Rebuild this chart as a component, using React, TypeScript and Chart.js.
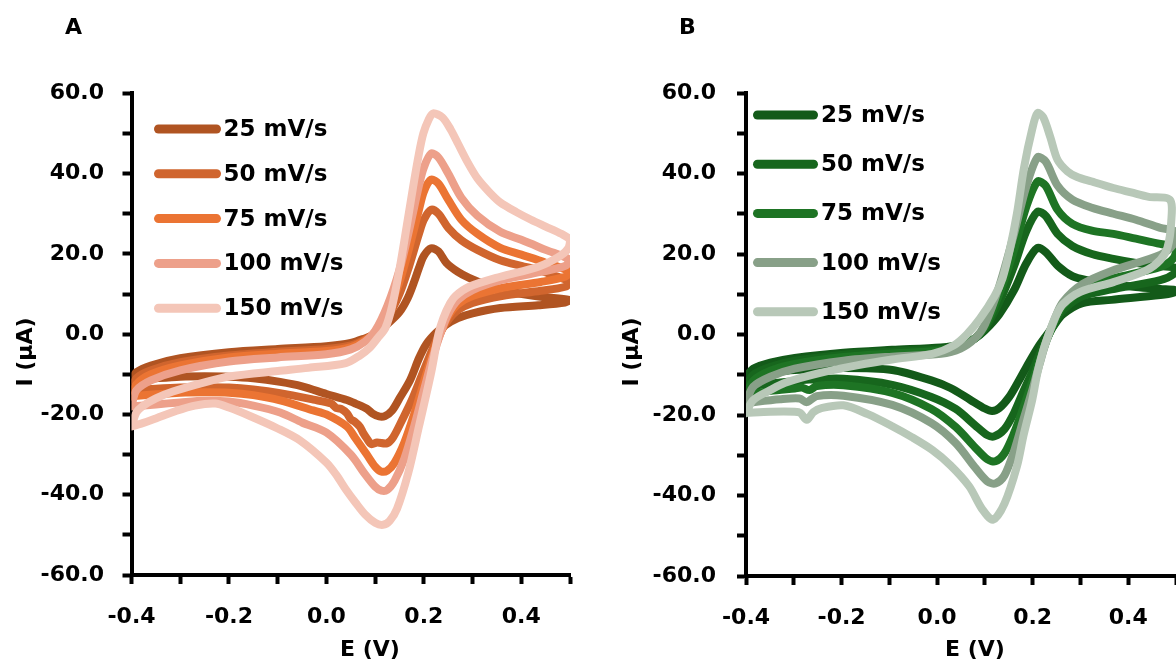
import React, { useEffect, useRef } from 'react';
import { Chart, registerables } from 'chart.js';

Chart.register(...registerables);

// ---------- data ----------
const SERIES_LABELS = ['25 mV/s', '50 mV/s', '75 mV/s', '100 mV/s', '150 mV/s'];
const COLORS_A = ['#B05422', '#D0652E', '#EB7433', '#EDA08A', '#F4C6B8'];
const COLORS_B = ['#135A19', '#17661D', '#1E7424', '#88A088', '#B8C8B8'];
const X_TITLE = 'E (V)';
const Y_TITLE = 'I (μA)';

const X_TICKS = [-0.4, -0.3, -0.2, -0.1, 0, 0.1, 0.2, 0.3, 0.4, 0.5];
const X_LABELED = [-0.4, -0.2, 0, 0.2, 0.4];
const Y_TICKS = [-60, -50, -40, -30, -20, -10, 0, 10, 20, 30, 40, 50, 60];
const Y_LABELED = [-60, -40, -20, 0, 20, 40, 60];

// Panel A (E in V, I in uA), each loop: forward scan then reverse scan
const A_25 = [[-0.4,-11.5],[-0.39,-9.5],[-0.36,-7.8],[-0.3,-6],[-0.2,-4.5],[-0.1,-3.7],[0,-3],[0.05,-2.2],[0.08,-1],[0.1,0],[0.125,2.5],[0.15,5.5],[0.167,9],[0.18,13],[0.19,16.5],[0.2,19.5],[0.215,21.4],[0.23,20.6],[0.246,17.8],[0.27,15.5],[0.293,14],[0.33,12.2],[0.38,10.5],[0.44,9.3],[0.5,8.5],
  [0.49,7.9],[0.435,7.2],[0.357,6.5],[0.3,5.2],[0.27,4],[0.245,2.3],[0.225,0.3],[0.205,-2.5],[0.19,-6],[0.172,-11.4],[0.151,-15.8],[0.135,-19],[0.12,-20.4],[0.108,-20.5],[0.095,-19.8],[0.083,-18.6],[0.06,-17.3],[0.042,-16.4],[0,-14.9],[-0.05,-13],[-0.095,-11.9],[-0.15,-11],[-0.2,-10.6],[-0.25,-10.5],[-0.3,-10.6],[-0.35,-11],[-0.4,-11.5]];
const A_50 = [[-0.4,-14],[-0.39,-11],[-0.36,-9],[-0.3,-7],[-0.2,-5.3],[-0.1,-4.4],[0,-3.7],[0.05,-2.8],[0.08,-1.3],[0.1,0.3],[0.125,4],[0.15,10],[0.17,17],[0.19,25],[0.2,28.5],[0.215,31],[0.23,30],[0.25,26.5],[0.277,23.4],[0.31,21],[0.357,18.4],[0.4,17],[0.435,16],[0.47,14.5],[0.5,13],
  [0.49,11.8],[0.44,10.8],[0.36,9.5],[0.3,7.8],[0.27,6],[0.25,3.5],[0.232,0],[0.215,-4.5],[0.195,-10.5],[0.175,-16.5],[0.157,-21],[0.137,-25.7],[0.124,-27.2],[0.104,-27],[0.092,-27.4],[0.083,-26],[0.075,-24.5],[0.069,-23.1],[0.058,-21.8],[0.05,-21.2],[0.042,-19.7],[0.03,-18.6],[0.02,-18.4],[0.01,-17.3],[-0.027,-16.3],[-0.095,-14.7],[-0.15,-13.8],[-0.2,-13.3],[-0.25,-13.2],[-0.3,-13.3],[-0.35,-13.6],[-0.4,-14]];
const A_75 = [[-0.4,-15.5],[-0.39,-12.5],[-0.36,-10],[-0.3,-7.8],[-0.2,-5.8],[-0.1,-4.9],[0,-4.2],[0.05,-3.2],[0.08,-1.5],[0.1,0.5],[0.125,5.5],[0.15,13],[0.17,21.5],[0.19,31],[0.2,35.5],[0.215,38.5],[0.23,37.5],[0.25,33.5],[0.277,28.5],[0.31,25],[0.357,21.5],[0.4,19.8],[0.45,17.8],[0.5,15.5],
  [0.49,14.3],[0.44,13],[0.36,11.5],[0.3,9.5],[0.27,7.5],[0.25,4.5],[0.235,0.5],[0.218,-5],[0.2,-12],[0.18,-20],[0.16,-27],[0.14,-32],[0.125,-34],[0.112,-34.2],[0.1,-33],[0.083,-30],[0.06,-26],[0.042,-23],[0,-20],[-0.027,-19],[-0.095,-16.5],[-0.15,-15.2],[-0.2,-14.6],[-0.25,-14.5],[-0.3,-14.6],[-0.35,-15],[-0.4,-15.5]];
const A_100 = [[-0.4,-18],[-0.39,-14],[-0.36,-11.5],[-0.3,-9],[-0.2,-6.8],[-0.1,-5.8],[0,-5],[0.05,-3.8],[0.08,-1.8],[0.1,0.8],[0.125,7],[0.15,16],[0.17,26],[0.19,37],[0.2,41.5],[0.215,45],[0.23,44],[0.25,40],[0.277,34],[0.31,29.5],[0.357,25.5],[0.4,23.5],[0.45,21],[0.5,18.5],
  [0.49,17],[0.44,15.5],[0.36,13.5],[0.3,11],[0.27,8.5],[0.25,5],[0.235,0.5],[0.218,-6],[0.2,-14],[0.18,-23],[0.16,-31],[0.14,-36.5],[0.125,-38.8],[0.113,-39],[0.1,-38],[0.08,-35],[0.05,-30],[0,-24.5],[-0.05,-22],[-0.095,-19.5],[-0.15,-17.8],[-0.2,-16.8],[-0.25,-16.6],[-0.3,-17],[-0.35,-17.5],[-0.4,-18]];
const A_150 = [[-0.4,-23],[-0.39,-19.5],[-0.378,-18],[-0.35,-16],[-0.315,-14.3],[-0.25,-12],[-0.196,-10.5],[-0.1,-9.2],[-0.037,-8.4],[0.04,-7.2],[0.07,-5.2],[0.088,-3.5],[0.105,-1],[0.121,1.5],[0.135,7],[0.151,16.8],[0.165,27],[0.178,36.7],[0.19,45],[0.199,50],[0.21,53.5],[0.219,55],[0.238,54],[0.255,51],[0.27,47.5],[0.29,42.8],[0.31,38.8],[0.335,35.3],[0.357,32.8],[0.39,30.4],[0.42,28.5],[0.45,26.8],[0.482,25],[0.5,23.5],
  [0.497,21.5],[0.48,19.5],[0.435,16.8],[0.357,14.3],[0.293,11.8],[0.265,9.5],[0.254,7.7],[0.24,4],[0.23,0],[0.215,-9.6],[0.19,-23],[0.168,-34.6],[0.145,-43.5],[0.13,-46.5],[0.116,-47.5],[0.1,-47],[0.08,-45],[0.06,-42],[0.04,-38.7],[0.02,-35],[0,-32],[-0.054,-26.5],[-0.1,-23.5],[-0.157,-20.4],[-0.2,-18.3],[-0.228,-17.3],[-0.27,-17.8],[-0.31,-19.2],[-0.35,-21],[-0.38,-22.3],[-0.4,-23]];

// Panel B
const B_25 = [[-0.4,-10.5],[-0.385,-8.5],[-0.349,-7],[-0.298,-5.8],[-0.196,-4.5],[-0.094,-3.8],[0.008,-3.2],[0.049,-2.5],[0.079,-1],[0.1,1],[0.13,5],[0.161,11],[0.186,17.5],[0.21,21.5],[0.227,20.5],[0.253,17],[0.283,14.5],[0.314,13.5],[0.365,12.5],[0.416,11.8],[0.467,11.3],[0.5,11],
  [0.495,10.4],[0.467,9.8],[0.365,8.6],[0.304,7.8],[0.263,5],[0.243,2],[0.227,-0.5],[0.212,-3],[0.192,-7],[0.171,-11.5],[0.151,-15.5],[0.13,-18.3],[0.115,-19],[0.1,-18.4],[0.069,-16.2],[0.028,-13.3],[-0.012,-11.4],[-0.094,-8.8],[-0.196,-8.3],[-0.298,-8.8],[-0.349,-9.5],[-0.4,-10.5]];
const B_50 = [[-0.4,-13],[-0.385,-10],[-0.349,-8],[-0.298,-6.5],[-0.196,-5],[-0.094,-4.2],[0.008,-3.6],[0.049,-2.8],[0.079,-1],[0.1,1.5],[0.13,8],[0.161,17],[0.186,25.5],[0.21,30.5],[0.227,29.5],[0.252,25],[0.283,22],[0.324,20],[0.369,18.8],[0.416,17.8],[0.467,17],[0.5,16.5],
  [0.495,15],[0.467,13.5],[0.365,11.2],[0.304,9.5],[0.263,6],[0.245,2.5],[0.229,-1.2],[0.214,-5],[0.2,-9],[0.181,-14],[0.161,-19.5],[0.141,-23.5],[0.12,-25.3],[0.105,-25],[0.079,-22.5],[0.039,-18.5],[-0.012,-15.5],[-0.094,-12.5],[-0.196,-11],[-0.267,-11.2],[-0.298,-11.6],[-0.349,-12.2],[-0.4,-13]];
const B_75 = [[-0.4,-15],[-0.385,-11.5],[-0.349,-9],[-0.298,-7.3],[-0.196,-5.6],[-0.094,-4.7],[0.008,-4],[0.049,-3],[0.079,-1],[0.1,2],[0.13,10],[0.161,21],[0.186,31.5],[0.21,38],[0.227,37],[0.252,31],[0.283,27.5],[0.324,25.8],[0.369,25],[0.416,23.8],[0.467,22.5],[0.5,21.5],
  [0.495,19],[0.467,16.8],[0.365,13.8],[0.304,11],[0.263,7],[0.245,3],[0.229,-1.5],[0.214,-6.5],[0.2,-11.5],[0.181,-18],[0.161,-24.5],[0.141,-29.5],[0.122,-31.5],[0.105,-31],[0.079,-28],[0.039,-23],[-0.012,-18.5],[-0.094,-14.5],[-0.196,-12.6],[-0.252,-12.8],[-0.267,-13.8],[-0.283,-13.2],[-0.298,-13.4],[-0.349,-14],[-0.4,-15]];
const B_100 = [[-0.4,-17],[-0.385,-13],[-0.349,-10.5],[-0.298,-8.5],[-0.196,-6.5],[-0.094,-5.5],[0.008,-4.8],[0.049,-3.5],[0.079,-1],[0.1,2.5],[0.13,12],[0.161,25],[0.186,36.5],[0.21,44],[0.227,43],[0.252,37],[0.283,33.5],[0.324,31.5],[0.369,30],[0.416,28.5],[0.467,26.5],[0.5,25.5],
  [0.495,22.5],[0.467,19.8],[0.365,15.8],[0.304,12.5],[0.263,8],[0.245,3.5],[0.229,-1.5],[0.214,-7.5],[0.2,-13.5],[0.181,-21],[0.161,-29],[0.141,-35],[0.122,-37],[0.105,-36.5],[0.079,-33],[0.039,-27],[-0.012,-22],[-0.094,-17.5],[-0.196,-15.2],[-0.252,-15.3],[-0.273,-16.8],[-0.288,-15.9],[-0.329,-16.1],[-0.4,-17]];
const B_150 = [[-0.4,-19.5],[-0.385,-16.3],[-0.349,-13.8],[-0.318,-12],[-0.247,-9.6],[-0.165,-7.6],[-0.094,-6.2],[-0.01,-4.8],[0.035,-2.7],[0.062,0],[0.09,4],[0.12,9.5],[0.137,14],[0.152,21],[0.167,30],[0.182,41.5],[0.199,51],[0.21,55],[0.222,54],[0.237,49],[0.252,43.4],[0.273,40.5],[0.292,39.2],[0.324,38],[0.369,36.4],[0.406,35.3],[0.443,34.2],[0.487,33.5],
  [0.49,28],[0.482,21.5],[0.467,18.5],[0.439,16],[0.369,13],[0.3,10.6],[0.263,7.5],[0.248,4.5],[0.235,0.5],[0.222,-4],[0.21,-9.5],[0.199,-16.3],[0.181,-25],[0.167,-32.8],[0.141,-42],[0.117,-46],[0.095,-43.5],[0.067,-37.7],[0.028,-32.5],[-0.01,-28.7],[-0.053,-25.5],[-0.094,-22.8],[-0.145,-19.8],[-0.196,-17.6],[-0.242,-18.3],[-0.259,-19.3],[-0.273,-21.2],[-0.286,-19.5],[-0.298,-19.2],[-0.349,-19.2],[-0.4,-19.5]];

const SERIES_A = [A_25, A_50, A_75, A_100, A_150];
const SERIES_B = [B_25, B_50, B_75, B_100, B_150];

// ---------- layout / style ----------
const FONT = "'DejaVu Sans', sans-serif";
const H = 666;

const GEOM_A = {
  canvasLeft: 0, canvasWidth: 600,
  plotLeft: 131.5, plotRight: 570, plotTop: 93.3, plotBottom: 575,
  yTickPad: 18.5,
  titles: { xx: 370, xy: 650, yx: 26, yy: 352 },
  legend: { x0: 158.5, x1: 216.5, tx: 223.5, y0: 129, dy: 44.8 },
};
const GEOM_B = {
  canvasLeft: 614, canvasWidth: 600,
  plotLeft: 746, plotRight: 1176, plotTop: 93, plotBottom: 576,
  yTickPad: 21,
  titles: { xx: 975, xy: 650, yx: 632, yy: 352 },
  legend: { x0: 757.5, x1: 813.5, tx: 821, y0: 115, dy: 49.2 },
};

const annotatePlugin = {
  id: 'cvAnnot',
  afterDraw(chart: any, _args: any, opts: any) {
    const { ctx } = chart;
    const L = opts.left;
    ctx.save();
    // legend
    chart.data.datasets.forEach((ds: any, i: number) => {
      const y = opts.legend.y0 + i * opts.legend.dy;
      ctx.strokeStyle = ds.borderColor;
      ctx.lineWidth = 9;
      ctx.lineCap = 'round';
      ctx.beginPath();
      ctx.moveTo(opts.legend.x0 - L, y);
      ctx.lineTo(opts.legend.x1 - L, y);
      ctx.stroke();
      ctx.fillStyle = '#000';
      ctx.font = `bold 23px ${FONT}`;
      ctx.textAlign = 'left';
      ctx.textBaseline = 'middle';
      ctx.fillText(ds.label, opts.legend.tx - L, y + 1);
    });
    // axis titles
    ctx.fillStyle = '#000';
    ctx.font = `bold 22px ${FONT}`;
    ctx.textAlign = 'center';
    ctx.textBaseline = 'middle';
    ctx.fillText(X_TITLE, opts.titles.xx - L, opts.titles.xy);
    ctx.translate(opts.titles.yx - L, opts.titles.yy);
    ctx.rotate(-Math.PI / 2);
    ctx.fillText(Y_TITLE, 0, 0);
    ctx.restore();
  },
};

function CVPanel({ series, colors, g }: { series: number[][][]; colors: string[]; g: any }) {
  const ref = useRef<HTMLCanvasElement>(null);
  useEffect(() => {
    const tickFont = { family: FONT, size: 22, weight: 'bold' as const };
    const chart = new Chart(ref.current as HTMLCanvasElement, {
      type: 'scatter',
      data: {
        datasets: series.map((pts, i) => ({
          label: SERIES_LABELS[i],
          data: pts.map(([x, y]) => ({ x, y })),
          showLine: true,
          borderColor: colors[i],
          backgroundColor: colors[i],
          borderWidth: 8,
          pointRadius: 0,
          pointHoverRadius: 0,
          tension: 0.3,
          borderCapStyle: 'round',
          borderJoinStyle: 'round',
          order: series.length - i,
        })),
      },
      options: {
        responsive: false,
        maintainAspectRatio: false,
        animation: false,
        devicePixelRatio: 1,
        events: [],
        layout: { padding: { left: 0, top: g.plotTop, right: g.canvasWidth - (g.plotRight - g.canvasLeft), bottom: 0 } },
        plugins: {
          legend: { display: false },
          tooltip: { enabled: false },
          title: { display: false },
          cvAnnot: { legend: g.legend, titles: g.titles, left: g.canvasLeft },
        } as any,
        scales: {
          x: {
            type: 'linear',
            min: -0.4,
            max: 0.5,
            afterBuildTicks: (s: any) => { s.ticks = X_TICKS.map((v) => ({ value: v })); },
            afterFit: (s: any) => { s.height = H - g.plotBottom; },
            grid: { drawOnChartArea: false, drawTicks: true, tickLength: 9, tickWidth: 4, tickColor: '#000' },
            border: { display: true, color: '#000', width: 4 },
            ticks: {
              autoSkip: false, maxRotation: 0, padding: 20, color: '#000', font: tickFont,
              callback: (v: any) => (X_LABELED.some((l) => Math.abs(l - Number(v)) < 1e-9) ? Number(v).toFixed(1) : ''),
            },
            title: { display: false },
          },
          y: {
            type: 'linear',
            min: -60,
            max: 60,
            afterBuildTicks: (s: any) => { s.ticks = Y_TICKS.map((v) => ({ value: v })); },
            afterFit: (s: any) => { s.width = g.plotLeft - g.canvasLeft; },
            grid: { drawOnChartArea: false, drawTicks: true, tickLength: 9, tickWidth: 4, tickColor: '#000' },
            border: { display: true, color: '#000', width: 4 },
            ticks: {
              autoSkip: false, padding: g.yTickPad, color: '#000', font: tickFont,
              callback: (v: any) => (Y_LABELED.includes(Number(v)) ? Number(v).toFixed(1) : ''),
            },
            title: { display: false },
          },
        },
      },
      plugins: [annotatePlugin as any],
    });
    return () => chart.destroy();
  }, []);
  return (
    <canvas
      ref={ref}
      width={g.canvasWidth}
      height={H}
      style={{ position: 'absolute', left: g.canvasLeft, top: 0, width: g.canvasWidth, height: H }}
    />
  );
}

const letterStyle: React.CSSProperties = {
  position: 'absolute',
  fontFamily: FONT,
  fontWeight: 'bold',
  fontSize: 22,
  lineHeight: '22px',
  color: '#000',
};

export default function App() {
  return (
    <div style={{ position: 'fixed', left: 0, top: 0, width: 1176, height: H, overflow: 'hidden', background: '#fff' }}>
      <CVPanel series={SERIES_A} colors={COLORS_A} g={GEOM_A} />
      <CVPanel series={SERIES_B} colors={COLORS_B} g={GEOM_B} />
      <div style={{ ...letterStyle, left: 65, top: 16 }}>A</div>
      <div style={{ ...letterStyle, left: 679, top: 16 }}>B</div>
    </div>
  );
}
